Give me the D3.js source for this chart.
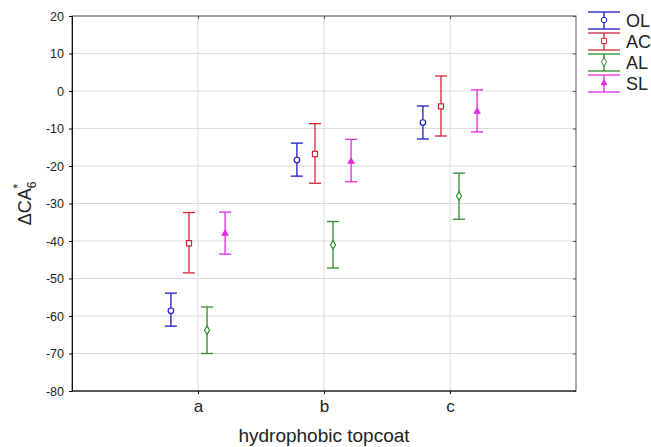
<!DOCTYPE html>
<html>
<head>
<meta charset="utf-8">
<script src="https://cdn.jsdelivr.net/npm/d3@7"></script>
<style>
  body { margin: 0; background: #fff; }
  text { font-family: "Liberation Sans", Arial, sans-serif; fill: #222; }
</style>
</head>
<body>
<script>
const categories = ['a', 'b', 'c']
const seriesNames = ['OL', 'AC', 'AL', 'SL']
const colors = ['#1c1cc4', '#d0263a', '#2f8a2f', '#e02ae0']
const symbols = ['circle', 'square', 'diamond', 'triangle']

// mean, lower, upper for each series at a, b, c
const OL = [[-58.6, -62.7, -53.9], [-18.4, -22.7, -13.9], [-8.4, -12.8, -4.0]]
const AC = [[-40.6, -48.5, -32.4], [-16.8, -24.6, -8.7], [-4.1, -12.0, 4.0]]
const AL = [[-63.8, -70.0, -57.6], [-41.0, -47.2, -34.8], [-28.0, -34.2, -21.9]]
const SL = [[-38.0, -43.5, -32.3], [-18.8, -24.2, -12.9], [-5.5, -10.9, 0.3]]
const yTicks = [20, 10, 0, -10, -20, -30, -40, -50, -60, -70, -80]

const series = [OL, AC, AL, SL]

const width = 651
const height = 447
const margin = {top: 16, bottom: 56, left: 72, right: 75}
const font = '"Liberation Sans", Arial, sans-serif'

const svg = d3.select('body').append('svg')
  .attr('width', width)
  .attr('height', height)

const xScale = d3.scaleLinear()
  .domain([0, 4])
  .range([margin.left, width - margin.right])

const yScale = d3.scaleLinear()
  .domain([-80, 20])
  .range([height - margin.bottom, margin.top])

const offset = d3.scalePoint()
  .domain(seriesNames)
  .range([-0.215, 0.215])

// grid
svg.append('g').selectAll('line')
  .data(yTicks)
  .enter()
  .append('line')
  .attr('x1', margin.left)
  .attr('x2', width - margin.right)
  .attr('y1', d => yScale(d))
  .attr('y2', d => yScale(d))
  .attr('stroke', '#dadada')

svg.append('g').selectAll('line')
  .data(categories)
  .enter()
  .append('line')
  .attr('x1', (d, i) => xScale(i + 1))
  .attr('x2', (d, i) => xScale(i + 1))
  .attr('y1', margin.top)
  .attr('y2', height - margin.bottom)
  .attr('stroke', '#dadada')

// frame
svg.append('rect')
  .attr('x', margin.left)
  .attr('y', margin.top)
  .attr('width', width - margin.left - margin.right)
  .attr('height', height - margin.top - margin.bottom)
  .attr('fill', 'none')
  .attr('stroke', '#555')

// axes
const yAxis = d3.axisLeft(yScale)
  .tickValues(yTicks)
  .tickFormat(d => String(d))
  .tickSize(3)
  .tickPadding(5)

svg.append('g')
  .attr('transform', `translate(${margin.left},0)`)
  .call(yAxis)
  .call(g => g.select('.domain').attr('stroke', '#111'))
  .call(g => g.selectAll('text').attr('font-size', 12.5).attr('fill', '#333').style('font-family', font))

const yAxisRight = d3.axisLeft(yScale)
  .tickValues(yTicks)
  .tickSize(3)
  .tickFormat('')

svg.append('g')
  .attr('transform', `translate(${width - margin.right},0)`)
  .call(yAxisRight)
  .call(g => g.select('.domain').remove())
  .call(g => g.selectAll('.tick line').attr('stroke', '#555'))

const xAxis = d3.axisBottom(xScale)
  .tickValues([1, 2, 3])
  .tickFormat((d, i) => categories[i])
  .tickSize(3)
  .tickPadding(6)

svg.append('g')
  .attr('transform', `translate(0,${height - margin.bottom})`)
  .call(xAxis)
  .call(g => g.select('.domain').attr('stroke', '#111').attr('d', `M${margin.left},0H${width - margin.right}`))
  .call(g => g.selectAll('text').attr('font-size', 17).attr('fill', '#222').style('font-family', font))

const xAxisTop = d3.axisBottom(xScale)
  .tickValues([1, 2, 3])
  .tickSize(3)
  .tickFormat('')

svg.append('g')
  .attr('transform', `translate(0,${margin.top})`)
  .call(xAxisTop)
  .call(g => g.select('.domain').remove())
  .call(g => g.selectAll('.tick line').attr('stroke', '#555'))

// axis titles
svg.append('text')
  .attr('x', xScale(2))
  .attr('y', 442)
  .attr('text-anchor', 'middle')
  .attr('font-size', 19)
  .text('hydrophobic topcoat')

const yTitle = svg.append('text')
  .attr('transform', `translate(31,${yScale(-30)}) rotate(-90)`)
  .attr('text-anchor', 'middle')
  .attr('font-size', 18)
yTitle.append('tspan').text('\u0394CA')
yTitle.append('tspan').attr('font-size', 12).attr('dy', 5).text('6')
yTitle.append('tspan').attr('font-size', 13).attr('dy', -14).attr('dx', -7).text('*')

// markers
function symbolPath(type, size) {
  const t = {circle: d3.symbolCircle, square: d3.symbolSquare, diamond: d3.symbolDiamond, triangle: d3.symbolTriangle}[type]
  return d3.symbol().type(t).size(size)()
}
const markSize = {circle: 24, square: 26, diamond: 22, triangle: 14}

const capHalf = 6

series.forEach((s, si) => {
  const g = svg.append('g')
  const color = colors[si]
  const cx = (d, i) => xScale(i + 1 + offset(seriesNames[si]))

  g.selectAll('.stem')
    .data(s)
    .enter()
    .append('line')
    .attr('x1', cx)
    .attr('x2', cx)
    .attr('y1', d => yScale(d[1]))
    .attr('y2', d => yScale(d[2]))
    .attr('stroke', color)
    .attr('stroke-width', 1.3)

  ;[1, 2].forEach(k => {
    g.selectAll('.cap' + k)
      .data(s)
      .enter()
      .append('line')
      .attr('x1', (d, i) => cx(d, i) - capHalf)
      .attr('x2', (d, i) => cx(d, i) + capHalf)
      .attr('y1', d => yScale(d[k]))
      .attr('y2', d => yScale(d[k]))
      .attr('stroke', color)
      .attr('stroke-width', 1.3)
  })

  g.selectAll('.mark')
    .data(s)
    .enter()
    .append('path')
    .attr('transform', (d, i) => `translate(${cx(d, i)},${yScale(d[0])})`)
    .attr('d', symbolPath(symbols[si], markSize[symbols[si]]))
    .attr('fill', symbols[si] === 'triangle' ? color : '#fff')
    .attr('stroke', color)
    .attr('stroke-width', 1.2)
})

// legend
const legend = svg.append('g')
  .attr('transform', 'translate(604,0)')

seriesNames.forEach((name, i) => {
  const y0 = 12 + i * 21
  const lg = legend.append('g').attr('transform', `translate(0,${y0})`)
  lg.append('line').attr('x1', -16).attr('x2', 16).attr('y1', 0).attr('y2', 0).attr('stroke', colors[i]).attr('stroke-width', 1.3)
  lg.append('line').attr('x1', -16).attr('x2', 16).attr('y1', 17).attr('y2', 17).attr('stroke', colors[i]).attr('stroke-width', 1.3)
  lg.append('line').attr('x1', 0).attr('x2', 0).attr('y1', 0).attr('y2', 17).attr('stroke', colors[i]).attr('stroke-width', 1.3)
  lg.append('path')
    .attr('transform', 'translate(0,8)')
    .attr('d', symbolPath(symbols[i], markSize[symbols[i]]))
    .attr('fill', symbols[i] === 'triangle' ? colors[i] : '#fff')
    .attr('stroke', colors[i])
  lg.append('text')
    .attr('x', 22)
    .attr('y', 15)
    .attr('font-size', 18)
    .text(name)
})
</script>
</body>
</html>
